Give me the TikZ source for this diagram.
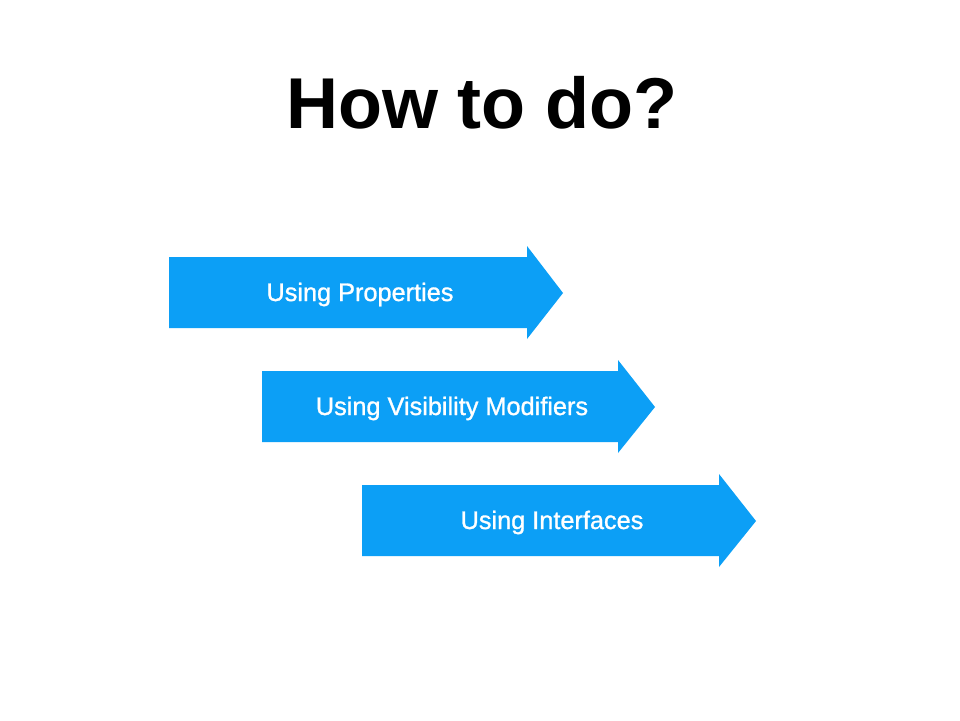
\documentclass[tikz,border=0pt]{standalone}
\usepackage{fontspec}
\setmainfont{Liberation Sans}
\newfontfamily\labelfont[FakeBold=1.1]{Liberation Sans}
\definecolor{arrowblue}{RGB}{12,159,246}
\tikzset{
  arrowshape/.style={fill=arrowblue, draw=none},
  arrowlabel/.style={text=white, font=\labelfont\fontsize{25.3}{29}\selectfont, inner sep=0pt, anchor=base},
  titlelabel/.style={text=black, font=\fontsize{72}{80}\selectfont\bfseries, inner sep=0pt, anchor=base}
}
\begin{document}
\begin{tikzpicture}[x=1pt,y=-1pt]
\useasboundingbox (0,0) rectangle (960,720);
\fill[white] (0,0) rectangle (960,720);
\node[titlelabel] (title) at (482,128) {How to do?};
% arrow 1
\fill[arrowshape] (169,257) -- (527,257) -- (527,246) -- (563,293) -- (527,339) -- (527,328) -- (169,328) -- cycle;
\node[arrowlabel] (a1) at (360,301) {Using Properties};
% arrow 2
\fill[arrowshape] (262,371) -- (618,371) -- (618,360) -- (655,407) -- (618,453) -- (618,442) -- (262,442) -- cycle;
\node[arrowlabel] (a2) at (452,415) {Using Visibility Modifiers};
% arrow 3
\fill[arrowshape] (362,485) -- (719,485) -- (719,474) -- (756,521) -- (719,567) -- (719,556) -- (362,556) -- cycle;
\node[arrowlabel] (a3) at (552,529) {Using Interfaces};
\end{tikzpicture}
\end{document}
